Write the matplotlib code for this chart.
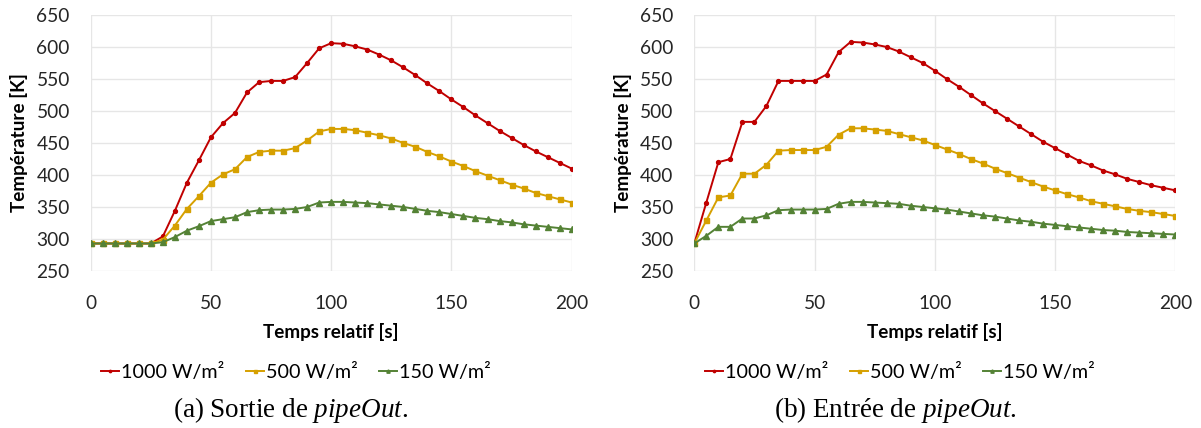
import numpy as np
import matplotlib.pyplot as plt

# time axis (s)
temps = [0, 5, 10, 15, 20, 25, 30, 35, 40, 45, 50, 55, 60, 65, 70, 75, 80, 85, 90, 95,
         100, 105, 110, 115, 120, 125, 130, 135, 140, 145, 150, 155, 160, 165, 170, 175,
         180, 185, 190, 195, 200]

# (a) sortie de pipeOut
sortie_1000 = [293, 293, 293, 293, 293, 293, 304, 344, 388, 423, 459, 481, 497, 529, 545, 547,
               547, 553, 575, 598, 606, 605, 601, 596, 588, 579, 568, 556, 543, 531, 518, 506,
               493, 481, 469, 458, 447, 437, 428, 419, 410]
sortie_500 = [293, 293, 293, 293, 293, 293, 299, 321, 347, 367, 388, 401, 409, 428, 436, 438,
              438, 442, 454, 468, 472, 472, 470, 466, 462, 457, 450, 444, 436, 429, 421, 414,
              406, 399, 392, 385, 379, 372, 367, 362, 357]
sortie_150 = [293, 293, 293, 293, 293, 293, 295, 303, 313, 320, 328, 331, 334, 342, 345, 346,
              346, 347, 350, 357, 358, 358, 357, 356, 354, 352, 350, 347, 344, 342, 339, 336,
              333, 331, 328, 326, 323, 321, 319, 317, 315]

# (b) entree de pipeOut
entree_1000 = [293, 357, 420, 425, 483, 483, 508, 547, 547, 547, 547, 557, 592, 608, 607, 604,
               600, 593, 584, 575, 563, 550, 538, 525, 512, 500, 488, 476, 464, 452, 442, 432,
               422, 415, 407, 401, 394, 389, 384, 380, 376]
entree_500 = [293, 329, 365, 368, 402, 402, 416, 438, 439, 439, 439, 444, 463, 473, 473, 471,
              469, 464, 459, 454, 447, 440, 433, 425, 418, 410, 403, 396, 389, 382, 376, 370,
              365, 359, 355, 351, 347, 344, 342, 339, 336]
entree_150 = [293, 305, 319, 319, 332, 332, 337, 345, 346, 346, 346, 347, 355, 358, 358, 357,
              356, 355, 352, 350, 348, 346, 343, 340, 337, 335, 332, 329, 327, 324, 322, 320,
              318, 316, 314, 313, 311, 310, 309, 308, 307]

labels = ['1000 W/m²', '500 W/m²', '150 W/m²']
colors = ['#C00000', '#D6A000', '#548235']
markers = ['o', 's', '^']
msizes = [2.8, 3.6, 4.0]
captions = [r'(a) Sortie de $\mathit{pipeOut}$.', r'(b) Entrée de $\mathit{pipeOut}$.']

plt.rcParams['font.family'] = ['Lato', 'DejaVu Sans']
plt.rcParams['mathtext.fontset'] = 'custom'
plt.rcParams['mathtext.rm'] = 'Liberation Serif'
plt.rcParams['mathtext.it'] = 'Liberation Serif:italic'

fig = plt.figure(figsize=(12.01, 4.28), dpi=100)

panels = [(sortie_1000, sortie_500, sortie_150), (entree_1000, entree_500, entree_150)]
lefts = [90.7 / 1201, 694.3 / 1201]

for k, series in enumerate(panels):
    ax = fig.add_axes([lefts[k], 157 / 428, 481 / 1201, 256 / 428])
    for vals, lab, c, m, ms in zip(series, labels, colors, markers, msizes):
        ax.plot(temps, vals, color=c, marker=m, markersize=ms, linewidth=1.4, label=lab)
    ax.set_xlim(0, 200)
    ax.set_ylim(250, 650)
    ax.set_xticks([0, 50, 100, 150, 200])
    ax.set_yticks(range(250, 651, 50))
    ax.grid(True, color='#E6E6E6', linewidth=1)
    ax.set_axisbelow(True)
    for s in ax.spines.values():
        s.set_visible(False)
    ax.tick_params(length=0, labelsize=13.8, colors='#262626')
    ax.tick_params(axis='x', pad=17)
    ax.tick_params(axis='y', pad=15)
    ax.set_xlabel('Temps relatif [s]', fontsize=13.6, fontweight='bold')
    ax.set_ylabel('Température [K]', fontsize=13.6, fontweight='bold')
    ax.xaxis.label.set_va('center')
    ax.yaxis.label.set_va('center')
    ax.xaxis.set_label_coords(0.5, -0.238)
    ax.yaxis.set_label_coords(-0.149, 0.5)

    cx = (296 + 604 * k) / 1201
    ax.legend(loc='center', bbox_to_anchor=(cx, 1 - 372 / 428), bbox_transform=fig.transFigure,
              ncol=3, frameon=False, fontsize=14.2, handlelength=0.9, handletextpad=0.1,
              columnspacing=1.1, markerscale=0.6)
    fig.text((291 + 604 * k) / 1201, 1 - 410 / 428, captions[k], ha='center', va='center',
             fontsize=19.5, family='Liberation Serif')

fig.savefig('out.png', dpi=100)
